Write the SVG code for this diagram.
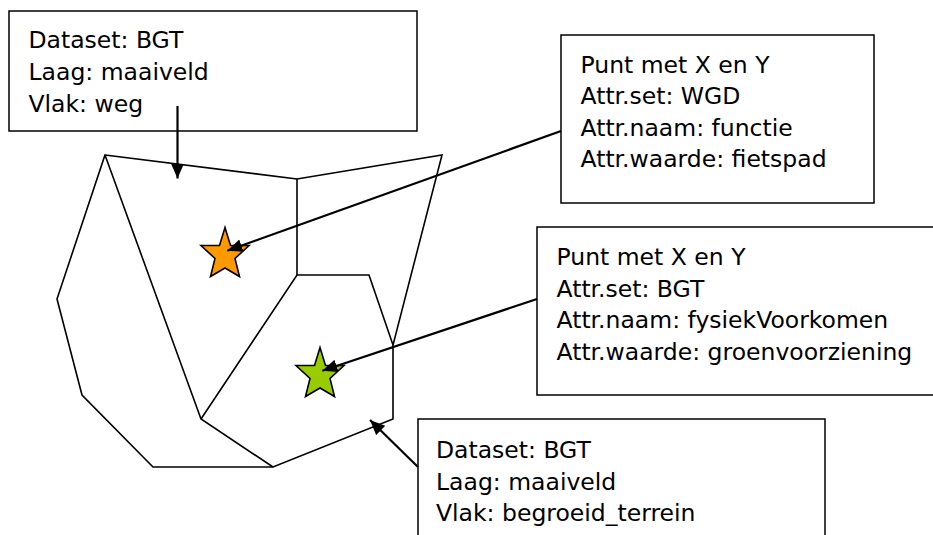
<svg xmlns="http://www.w3.org/2000/svg" width="933" height="535" viewBox="0 0 933 535">
<style>
.box{fill:#fff;stroke:#000;stroke-width:1.5}
.poly{fill:none;stroke:#000;stroke-width:1.6;stroke-linejoin:miter}
.conn{fill:none;stroke:#000;stroke-width:2.2;marker-end:url(#ah)}
.star{stroke:#000;stroke-width:1.6;stroke-linejoin:miter}
text{font-family:"DejaVu Sans","Verdana",sans-serif;font-size:23.5px;fill:#000}
</style>
<defs>
<marker id="ah" markerUnits="userSpaceOnUse" markerWidth="16" markerHeight="14" viewBox="-15 -7 16 14" refX="0" refY="0" orient="auto">
<path d="M0,0 L-15,-6.5 L-15,6.5 Z" fill="#000"/>
</marker>
<polygon id="starshape" points="225,227.5 230.5,245.5 249,245.5 235,258.5 239.5,276.5 225,268 210.5,276.5 215,258.5 201,245.5 219.5,245.5"/>
</defs>
<rect width="933" height="535" fill="#fff"/>
<g id="polygons">
<path class="poly" d="M105,155 L297,179 L442,155 L393,345 L393,419 L273,467 L153,467 L82,395 L57,299 Z"/>
<path class="poly" d="M105,155 L201,419 L273,467"/>
<path class="poly" d="M201,419 L297,275 L369,275 L393,345"/>
<path class="poly" d="M297,179 L297,275"/>
</g>
<g id="star-orange">
<use href="#starshape" class="star" fill="#ff9900"/>
</g>
<g id="star-green">
<use href="#starshape" class="star" fill="#99cc00" transform="translate(95,120)"/>
</g>
<g id="box-weg">
<rect class="box" x="9" y="11" width="408" height="120"/>
<text x="28.5" y="48">Dataset: BGT</text>
<text x="28.5" y="80">Laag: maaiveld</text>
<text x="28.5" y="111.5">Vlak: weg</text>
</g>
<g id="box-wgd">
<rect class="box" x="561" y="35" width="313" height="168"/>
<text x="580.5" y="72.5">Punt met X en Y</text>
<text x="580.5" y="104">Attr.set: WGD</text>
<text x="580.5" y="135.5">Attr.naam: functie</text>
<text x="580.5" y="167">Attr.waarde: fietspad</text>
</g>
<g id="box-bgt">
<rect class="box" x="537" y="227" width="400" height="168"/>
<text x="556.5" y="265">Punt met X en Y</text>
<text x="556.5" y="296.5">Attr.set: BGT</text>
<text x="556.5" y="328">Attr.naam: fysiekVoorkomen</text>
<text x="556.5" y="360">Attr.waarde: groenvoorziening</text>
</g>
<g id="box-terrein">
<rect class="box" x="418" y="419" width="407" height="130"/>
<text x="436" y="458">Dataset: BGT</text>
<text x="436" y="489.5">Laag: maaiveld</text>
<text x="436" y="521">Vlak: begroeid_terrein</text>
</g>
<g id="connectors">
<line class="conn" x1="177.5" y1="106" x2="177.5" y2="178.5"/>
<line class="conn" x1="561" y1="131" x2="227.3" y2="250.7"/>
<line class="conn" x1="537" y1="299" x2="322.3" y2="370.7"/>
<line class="conn" x1="418" y1="467" x2="370" y2="420"/>
</g>
</svg>
